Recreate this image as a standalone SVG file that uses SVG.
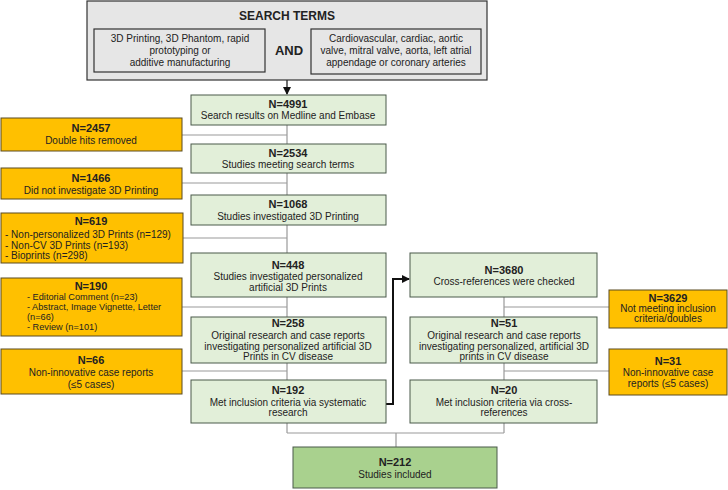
<svg xmlns="http://www.w3.org/2000/svg" width="728" height="490" viewBox="0 0 728 490">
<style>
text{font-family:"Liberation Sans",Arial,sans-serif;font-size:10px;fill:#222;text-anchor:middle}
.b{font-weight:bold;font-size:11px}
.l{text-anchor:start}
.sm{font-size:9.2px}
.g rect{fill:#e2efd9;stroke:#4a5a4a;stroke-width:1}
.o rect{fill:#ffc000;stroke:#5a4a20;stroke-width:1}
.s rect{fill:#e6e6e6;stroke:#333;stroke-width:1.2}
.c line,.c polyline{stroke:#999;stroke-width:1.2;fill:none}
</style>
<defs><marker id="ah" markerWidth="8" markerHeight="8" refX="7" refY="4" orient="auto" markerUnits="userSpaceOnUse"><path d="M0,0L8,4L0,8z" fill="#111"/></marker></defs>
<g id="connectors" class="c">
<line x1="287" y1="125" x2="287" y2="433"/>
<line x1="182" y1="135" x2="287" y2="135"/>
<line x1="182" y1="183" x2="287" y2="183"/>
<line x1="183" y1="238" x2="287" y2="238"/>
<line x1="182" y1="307" x2="287" y2="307"/>
<line x1="182" y1="371" x2="287" y2="371"/>
<line x1="504" y1="297" x2="504" y2="433"/>
<line x1="504" y1="307" x2="609" y2="307"/>
<line x1="504" y1="371" x2="609" y2="371"/>
<polyline points="287,433 504,433"/>
<line x1="396" y1="433" x2="396" y2="447"/>
<line x1="287" y1="80" x2="287" y2="94" style="stroke:#111" marker-end="url(#ah)"/>
<polyline points="386,404 393,404 393,279 409,279" style="stroke:#111;stroke-width:2" marker-end="url(#ah)"/>
</g>
<g id="search" class="s">
<rect x="87" y="1" width="400" height="79"/>
<text class="b" x="287" y="20" style="font-size:12px">SEARCH TERMS</text>
<rect x="94" y="29" width="171" height="43"/>
<text x="180" y="42">3D Printing, 3D Phantom, rapid</text><text x="180" y="54">prototyping or</text><text x="180" y="66">additive manufacturing</text>
<text class="b" x="289" y="55" style="font-size:13px">AND</text>
<rect x="311" y="29" width="170" height="45"/>
<text x="396" y="42">Cardiovascular, cardiac, aortic</text><text x="396" y="54">valve, mitral valve, aorta, left atrial</text><text x="396" y="66">appendage or coronary arteries</text>
</g>
<g id="n4991" class="g"><rect x="191" y="95" width="195" height="30"/><text class="b" x="288" y="108">N=4991</text><text x="288" y="119">Search results on Medline and Embase</text></g>
<g id="n2457" class="o"><rect x="1" y="118" width="181" height="33"/><text class="b" x="91" y="132">N=2457</text><text x="91" y="144">Double hits removed</text></g>
<g id="n2534" class="g"><rect x="191" y="144" width="195" height="29"/><text class="b" x="288" y="157">N=2534</text><text x="288" y="168">Studies meeting search terms</text></g>
<g id="n1466" class="o"><rect x="1" y="168" width="181" height="31"/><text class="b" x="91" y="182">N=1466</text><text x="91" y="194">Did not investigate 3D Printing</text></g>
<g id="n1068" class="g"><rect x="191" y="195" width="195" height="30"/><text class="b" x="288" y="208">N=1068</text><text x="288" y="220">Studies investigated 3D Printing</text></g>
<g id="n619" class="o"><rect x="1" y="213" width="182" height="50"/><text class="b" x="91" y="225">N=619</text><text class="l" x="5" y="238">- Non-personalized 3D Prints (n=129)</text><text class="l" x="5" y="249">- Non-CV 3D Prints (n=193)</text><text class="l" x="5" y="259">- Bioprints (n=298)</text></g>
<g id="n448" class="g"><rect x="191" y="253" width="195" height="44"/><text class="b" x="288" y="269">N=448</text><text x="288" y="280">Studies investigated personalized</text><text x="288" y="291">artificial 3D Prints</text></g>
<g id="n190" class="o"><rect x="1" y="278" width="181" height="58"/><text class="b" x="91" y="290">N=190</text><text class="l sm" x="27" y="300">- Editorial Comment (n=23)</text><text class="l sm" x="27" y="310">- Abstract, Image Vignette, Letter</text><text class="l sm" x="27" y="320">(n=66)</text><text class="l sm" x="27" y="330">- Review (n=101)</text></g>
<g id="n3680" class="g"><rect x="410" y="253" width="187" height="44"/><text class="b" x="504" y="274">N=3680</text><text x="504" y="285">Cross-references were checked</text></g>
<g id="n3629" class="o"><rect x="609" y="290" width="118" height="38"/><text class="b" x="668" y="302">N=3629</text><text x="668" y="312">Not meeting inclusion</text><text x="668" y="322">criteria/doubles</text></g>
<g id="n258" class="g"><rect x="191" y="317" width="195" height="46"/><text class="b" x="288" y="327">N=258</text><text x="288" y="339">Original research and case reports</text><text x="288" y="350">investigating personalized artificial 3D</text><text x="288" y="360">Prints in CV disease</text></g>
<g id="n51" class="g"><rect x="410" y="317" width="187" height="46"/><text class="b" x="504" y="327">N=51</text><text x="504" y="339">Original research and case reports</text><text x="504" y="350">investigating personalized, artificial 3D</text><text x="504" y="360">prints in CV disease</text></g>
<g id="n66" class="o"><rect x="1" y="349" width="181" height="45"/><text class="b" x="91" y="364">N=66</text><text x="91" y="376">Non-innovative case reports</text><text x="91" y="388">(≤5 cases)</text></g>
<g id="n31" class="o"><rect x="609" y="349" width="118" height="46"/><text class="b" x="668" y="365">N=31</text><text x="668" y="376">Non-innovative case</text><text x="668" y="387">reports (≤5 cases)</text></g>
<g id="n192" class="g"><rect x="191" y="380" width="195" height="43"/><text class="b" x="288" y="394">N=192</text><text x="288" y="406">Met inclusion criteria via systematic</text><text x="288" y="416">research</text></g>
<g id="n20" class="g"><rect x="410" y="380" width="187" height="43"/><text class="b" x="504" y="394">N=20</text><text x="504" y="406">Met inclusion criteria via cross-</text><text x="504" y="416">references</text></g>
<g id="n212" class="g"><rect x="293" y="447" width="204" height="41" style="fill:#a9d18e"/><text class="b" x="395" y="466">N=212</text><text x="395" y="478">Studies included</text></g>
</svg>
